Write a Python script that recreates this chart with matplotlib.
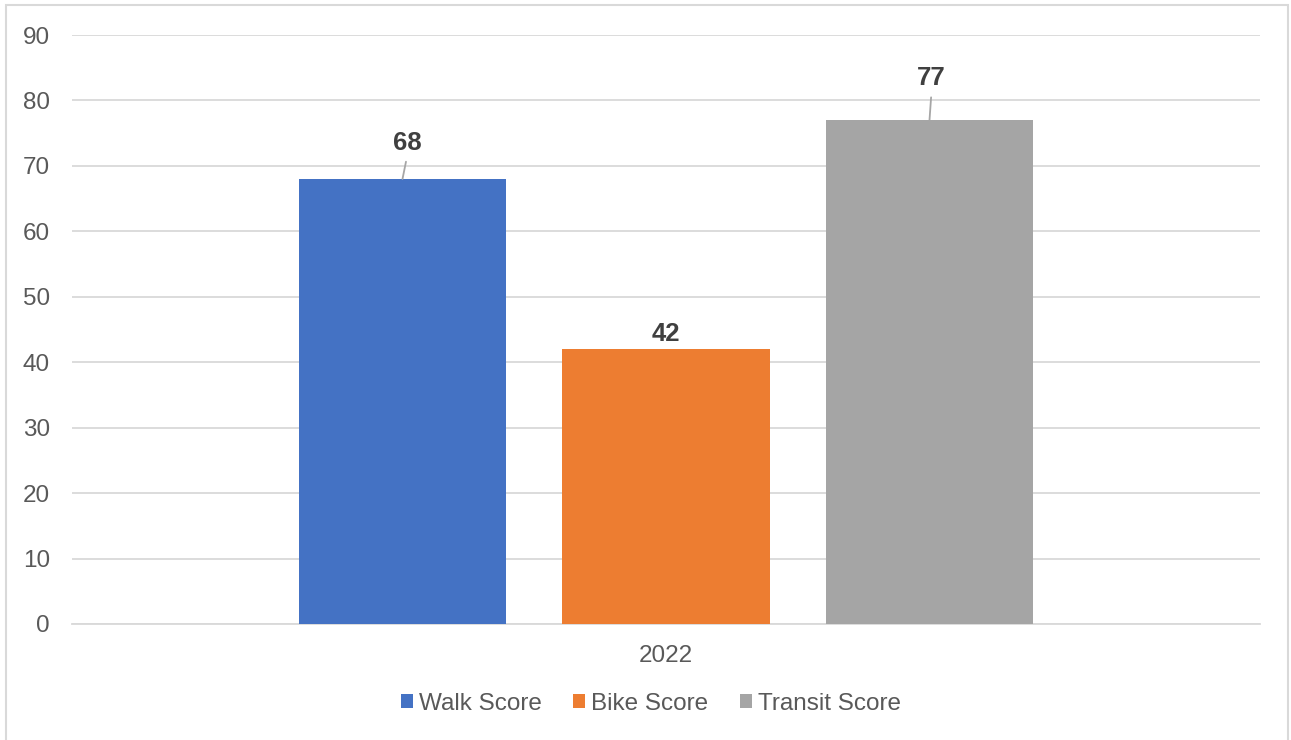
import matplotlib.pyplot as plt
from matplotlib.patches import Patch, Rectangle

# data
category = '2022'
series = ['Walk Score', 'Bike Score', 'Transit Score']
values = [68, 42, 77]
colors = ['#4472C4', '#ED7D31', '#A5A5A5']

# label offsets (points) and whether a leader line is drawn
label_offsets = [(3.5, 26), (0, 11), (1.5, 30)]
leader = [True, False, True]

plt.rcParams['font.family'] = ['Liberation Sans', 'DejaVu Sans']

fig = plt.figure(figsize=(12.91, 7.40), dpi=100)
ax = fig.add_axes([72 / 1291, 1 - 624 / 740, (1260 - 72) / 1291, (624 - 35) / 740])

bar_w = 0.175
step = 0.2218
for i, (name, v, c) in enumerate(zip(series, values, colors)):
    x = (i - 1) * step
    ax.bar(x, v, width=bar_w, color=c, zorder=3)
    dx, dy = label_offsets[i]
    props = dict(arrowstyle='-', color='#a6a6a6', lw=1.3, shrinkA=3, shrinkB=0,
                 relpos=(0.5, 0)) if leader[i] else None
    ax.annotate(str(v), xy=(x, v), xytext=(dx, dy), textcoords='offset points',
                ha='center', va='center', fontsize=18.5, fontweight='bold',
                color='#404040', arrowprops=props)

ax.set_xlim(-0.5, 0.5)
ax.set_ylim(0, 90)
ax.set_yticks(range(0, 91, 10))
ax.set_xticks([0])
ax.set_xticklabels([category])
ax.yaxis.grid(True, color='#d9d9d9', lw=1.3, zorder=0)
ax.tick_params(axis='both', length=0, labelsize=17.5, labelcolor='#595959')
ax.tick_params(axis='y', pad=16)
ax.tick_params(axis='x', pad=15)
for s in ['top', 'right', 'left']:
    ax.spines[s].set_visible(False)
ax.spines['bottom'].set_color('#d9d9d9')
ax.spines['bottom'].set_linewidth(1.3)

handles = [Patch(facecolor=c, label=n) for n, c in zip(series, colors)]
fig.legend(handles=handles, loc='center', bbox_to_anchor=(651 / 1291, 1 - 704 / 740),
           ncol=3, frameon=False, fontsize=17.5, labelcolor='#595959',
           handlelength=0.5, handleheight=0.5, handletextpad=0.25,
           columnspacing=1.3)

fig.patches.append(Rectangle((6 / 1291, -0.02), 1282 / 1291, 1 - 5 / 740 + 0.02,
                             transform=fig.transFigure, fill=False,
                             edgecolor='#d9d9d9', lw=1.5))

fig.savefig('out.png', dpi=100)
